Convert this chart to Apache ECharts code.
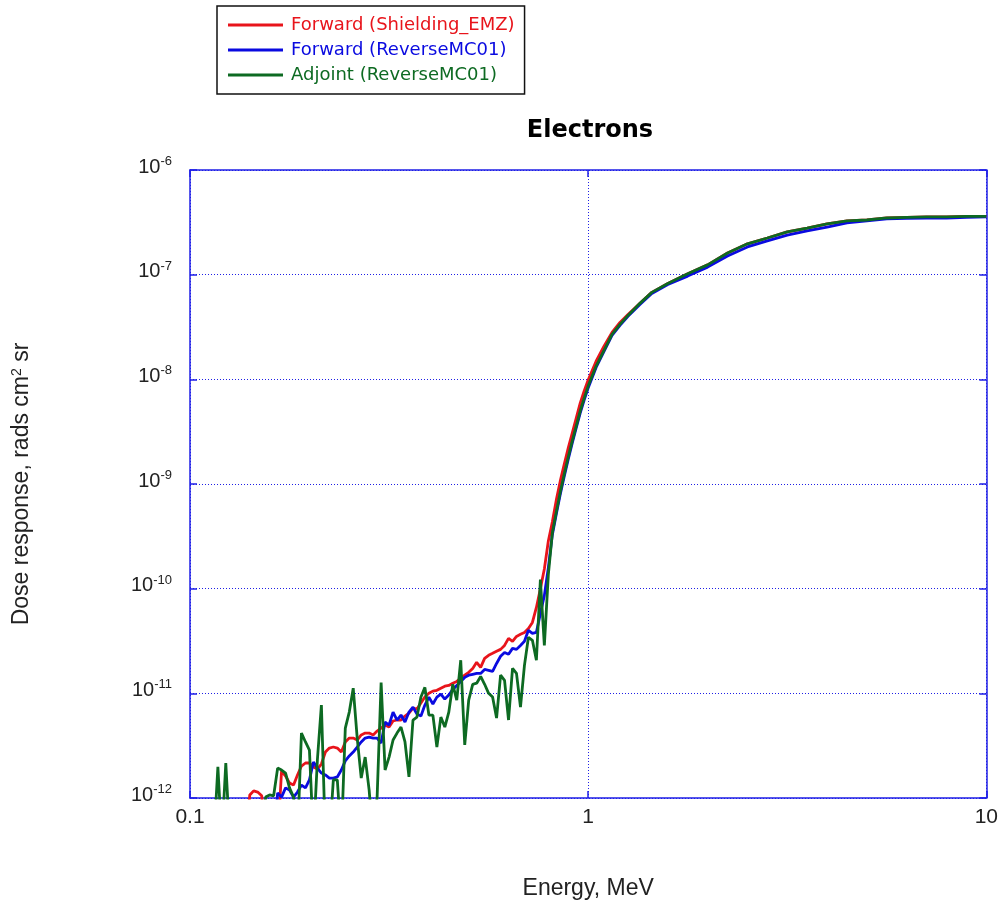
<!DOCTYPE html>
<html>
<head>
<meta charset="utf-8">
<title>Electrons</title>
<script src="https://cdn.jsdelivr.net/npm/echarts@6/dist/echarts.min.js"></script>
<style>
  html, body { margin: 0; padding: 0; background: #ffffff; overflow: hidden; }
  #chart { width: 1001px; height: 907px; }
</style>
</head>
<body>
<div id="chart"></div>
<script>
// Points that fall below the bottom of the dose axis (the trace drops off the plot)
const OFF_SCALE = 4e-13;

// Electron energy, MeV (shared by all three traces)
const energy = [
  0.1148, 0.1175, 0.1202, 0.1230, 0.1259, 0.1288, 0.1318, 0.1349, 0.1380, 0.1413,
  0.1445, 0.1479, 0.1514, 0.1549, 0.1585, 0.1622, 0.1660, 0.1698, 0.1738, 0.1778,
  0.1820, 0.1862, 0.1905, 0.1950, 0.1995, 0.2042, 0.2089, 0.2138, 0.2188, 0.2239,
  0.2291, 0.2344, 0.2399, 0.2455, 0.2512, 0.2570, 0.2630, 0.2692, 0.2754, 0.2818,
  0.2884, 0.2951, 0.3020, 0.3090, 0.3162, 0.3236, 0.3311, 0.3388, 0.3467, 0.3548,
  0.3631, 0.3715, 0.3802, 0.3890, 0.3981, 0.4074, 0.4169, 0.4266, 0.4365, 0.4467,
  0.4571, 0.4677, 0.4786, 0.4898, 0.5012, 0.5129, 0.5248, 0.5370, 0.5495, 0.5623,
  0.5754, 0.5888, 0.6026, 0.6166, 0.6310, 0.6457, 0.6607, 0.6761, 0.6918, 0.7079,
  0.7244, 0.7413, 0.7586, 0.7762, 0.7943, 0.8128, 0.8318, 0.8511, 0.8710, 0.8913,
  0.9120, 0.9333, 0.9550, 0.9772, 1.000, 1.047, 1.096, 1.148, 1.202, 1.259,
  1.349, 1.445, 1.585, 1.778, 1.995, 2.239, 2.512, 2.818, 3.162, 3.548,
  3.981, 4.467, 5.012, 5.623, 6.310, 7.079, 7.943, 8.913, 10.00
];

// Dose response, rads cm2 sr — forward calculation, Shielding_EMZ
const doseForwardEMZ = [
  OFF_SCALE, OFF_SCALE, OFF_SCALE, OFF_SCALE, OFF_SCALE, OFF_SCALE, OFF_SCALE, OFF_SCALE, OFF_SCALE, 1.07e-12,
  1.17e-12, 1.14e-12, 1.05e-12, OFF_SCALE, OFF_SCALE, OFF_SCALE, OFF_SCALE, 1.81e-12, 1.62e-12, 1.39e-12,
  1.33e-12, 1.66e-12, 2.02e-12, 2.16e-12, 2.16e-12, 1.98e-12, 1.89e-12, 2.11e-12, 2.75e-12, 3.00e-12,
  3.07e-12, 3.00e-12, 2.75e-12, 3.43e-12, 3.74e-12, 3.74e-12, 3.58e-12, 4.00e-12, 4.17e-12, 4.17e-12,
  4.00e-12, 4.36e-12, 4.66e-12, 4.98e-12, 4.76e-12, 5.44e-12, 5.56e-12, 5.56e-12, 6.07e-12, 6.48e-12,
  7.23e-12, 7.08e-12, 8.07e-12, 9.21e-12, 1.00e-11, 1.05e-11, 1.07e-11, 1.12e-11, 1.17e-11, 1.19e-11,
  1.25e-11, 1.30e-11, 1.39e-11, 1.49e-11, 1.59e-11, 1.73e-11, 1.98e-11, 1.77e-11, 2.16e-11, 2.31e-11,
  2.41e-11, 2.52e-11, 2.63e-11, 2.87e-11, 3.35e-11, 3.14e-11, 3.50e-11, 3.66e-11, 3.82e-11, 4.17e-11,
  4.76e-11, 6.62e-11, 1.00e-10, 1.54e-10, 2.85e-10, 4.33e-10, 7.05e-10, 1.07e-9, 1.55e-9, 2.21e-9,
  3.07e-9, 4.27e-9, 5.93e-9, 7.73e-9, 9.84e-9, 1.49e-8, 2.07e-8, 2.81e-8, 3.50e-8, 4.17e-8,
  5.32e-8, 6.77e-8, 8.25e-8, 1.02e-7, 1.24e-7, 1.61e-7, 1.97e-7, 2.24e-7, 2.56e-7, 2.79e-7,
  3.05e-7, 3.26e-7, 3.33e-7, 3.48e-7, 3.52e-7, 3.56e-7, 3.56e-7, 3.60e-7, 3.60e-7
];

// Forward calculation, ReverseMC01
const doseForwardRMC = [
  OFF_SCALE, OFF_SCALE, OFF_SCALE, OFF_SCALE, OFF_SCALE, OFF_SCALE, OFF_SCALE, OFF_SCALE, OFF_SCALE, OFF_SCALE,
  OFF_SCALE, OFF_SCALE, OFF_SCALE, OFF_SCALE, OFF_SCALE, OFF_SCALE, 1.12e-12, 1.02e-12, 1.25e-12, 1.19e-12,
  1.02e-12, 1.14e-12, 1.33e-12, 1.25e-12, 1.49e-12, 2.21e-12, 1.93e-12, 1.73e-12, 1.66e-12, 1.55e-12,
  1.55e-12, 1.59e-12, 1.85e-12, 2.26e-12, 2.52e-12, 2.75e-12, 3.07e-12, 3.43e-12, 3.74e-12, 3.82e-12,
  3.74e-12, 3.74e-12, 3.35e-12, 5.32e-12, 4.98e-12, 6.62e-12, 5.56e-12, 6.20e-12, 5.32e-12, 6.62e-12,
  7.39e-12, 6.34e-12, 6.07e-12, 7.73e-12, 9.21e-12, 7.90e-12, 9.21e-12, 9.84e-12, 8.82e-12, 9.63e-12,
  1.09e-11, 1.19e-11, 1.30e-11, 1.42e-11, 1.49e-11, 1.52e-11, 1.55e-11, 1.55e-11, 1.69e-11, 1.66e-11,
  1.62e-11, 1.93e-11, 2.26e-11, 2.46e-11, 2.36e-11, 2.69e-11, 2.63e-11, 2.87e-11, 3.14e-11, 4.00e-11,
  3.74e-11, 3.82e-11, 5.81e-11, 8.62e-11, 1.59e-10, 3.26e-10, 5.17e-10, 8.00e-10, 1.19e-9, 1.73e-9,
  2.46e-9, 3.43e-9, 4.76e-9, 6.34e-9, 8.25e-9, 1.30e-8, 1.85e-8, 2.63e-8, 3.28e-8, 4.00e-8,
  5.20e-8, 6.62e-8, 8.07e-8, 9.69e-8, 1.18e-7, 1.51e-7, 1.84e-7, 2.10e-7, 2.39e-7, 2.62e-7,
  2.85e-7, 3.12e-7, 3.26e-7, 3.41e-7, 3.45e-7, 3.48e-7, 3.48e-7, 3.52e-7, 3.56e-7
];

// Adjoint calculation, ReverseMC01
const doseAdjointRMC = [
  OFF_SCALE, 1.98e-12, OFF_SCALE, 2.16e-12, OFF_SCALE, OFF_SCALE, OFF_SCALE, OFF_SCALE, OFF_SCALE, OFF_SCALE,
  OFF_SCALE, OFF_SCALE, OFF_SCALE, 1.02e-12, 1.07e-12, 1.05e-12, 1.93e-12, 1.85e-12, 1.73e-12, 1.25e-12,
  1.02e-12, OFF_SCALE, 4.17e-12, 3.43e-12, 2.87e-12, OFF_SCALE, 2.31e-12, 7.73e-12, OFF_SCALE, OFF_SCALE,
  1.49e-12, 1.49e-12, OFF_SCALE, 4.66e-12, 6.62e-12, 1.12e-11, 3.74e-12, 1.55e-12, 2.46e-12, 1.19e-12,
  OFF_SCALE, 1.02e-12, 1.27e-11, 1.85e-12, 2.46e-12, 3.58e-12, 4.17e-12, 4.76e-12, 3.43e-12, 1.59e-12,
  5.56e-12, 5.93e-12, 9.21e-12, 1.14e-11, 6.20e-12, 6.20e-12, 3.07e-12, 5.93e-12, 4.76e-12, 6.62e-12,
  1.22e-11, 8.62e-12, 2.07e-11, 3.21e-12, 8.62e-12, 1.22e-11, 1.25e-11, 1.45e-11, 1.22e-11, 1.00e-11,
  9.21e-12, 5.81e-12, 1.49e-11, 1.33e-11, 5.56e-12, 1.73e-11, 1.55e-11, 7.39e-12, 1.85e-11, 3.43e-11,
  3.21e-11, 2.07e-11, 1.22e-10, 2.87e-11, 1.36e-10, 3.40e-10, 5.40e-10, 8.40e-10, 1.25e-9, 1.81e-9,
  2.57e-9, 3.58e-9, 4.98e-9, 6.62e-9, 8.62e-9, 1.34e-8, 1.89e-8, 2.69e-8, 3.35e-8, 4.08e-8,
  5.32e-8, 6.77e-8, 8.25e-8, 1.02e-7, 1.24e-7, 1.61e-7, 1.97e-7, 2.24e-7, 2.56e-7, 2.79e-7,
  3.05e-7, 3.26e-7, 3.33e-7, 3.48e-7, 3.52e-7, 3.56e-7, 3.56e-7, 3.60e-7, 3.60e-7
];

const seriesNames = ['Forward (Shielding_EMZ)', 'Forward (ReverseMC01)', 'Adjoint (ReverseMC01)'];
const seriesColors = ['#e8141b', '#0a0ae0', '#0d6a22'];
const seriesDose = [doseForwardEMZ, doseForwardRMC, doseAdjointRMC];

const energyRange = [0.1, 10];
const doseRange = [1e-12, 1e-6];

const frameBlue = '#1f1fe6';
const labelFont = '"Liberation Sans", Arial, sans-serif';
const wideFont = '"DejaVu Sans", Verdana, sans-serif';

function energyLabel(v) {
  const e = Math.round(Math.log10(v));
  return e < 0 ? '0.' + '0'.repeat(-e - 1) + '1' : String(Math.pow(10, e));
}
function doseLabel(v) {
  const e = Math.round(Math.log10(v));
  return '{b|10}{s|' + e + '}';
}

const chart = echarts.init(document.getElementById('chart'), null, { renderer: 'canvas', width: 1001, height: 907 });

function xAxisCfg(pos, primary) {
  return {
    type: 'log', logBase: 10, position: pos,
    min: energyRange[0], max: energyRange[1],
    axisLine: { show: true, onZero: false, lineStyle: { color: frameBlue, width: 1.5 } },
    axisTick: { show: true, inside: true, length: 7, lineStyle: { color: frameBlue, width: 1.5 } },
    minorTick: { show: false },
    splitLine: { show: primary, lineStyle: { color: frameBlue, width: 1, type: [1, 2] } },
    axisLabel: primary ? {
      show: true, margin: 9, formatter: energyLabel, showMinLabel: true, showMaxLabel: true,
      color: '#222', fontFamily: labelFont, fontSize: 21
    } : { show: false },
    name: primary ? 'Energy, MeV' : '',
    nameLocation: 'middle', nameGap: 79,
    nameTextStyle: { color: '#222', fontFamily: labelFont, fontSize: 23 }
  };
}

function yAxisCfg(pos, primary) {
  return {
    type: 'log', logBase: 10, position: pos,
    min: doseRange[0], max: doseRange[1], splitNumber: 6,
    axisLine: { show: true, onZero: false, lineStyle: { color: frameBlue, width: 1.5 } },
    axisTick: { show: true, inside: true, length: 7, lineStyle: { color: frameBlue, width: 1.5 } },
    minorTick: { show: false },
    splitLine: { show: primary, lineStyle: { color: frameBlue, width: 1, type: [1, 2] } },
    axisLabel: primary ? {
      show: true, margin: 18, formatter: doseLabel, showMinLabel: true, showMaxLabel: true,
      padding: [0, 0, 8, 0],
      rich: {
        b: { fontFamily: labelFont, fontSize: 20, color: '#222', lineHeight: 22, verticalAlign: 'bottom' },
        s: { fontFamily: labelFont, fontSize: 13, color: '#222', lineHeight: 13, verticalAlign: 'top' }
      }
    } : { show: false },
    name: primary ? 'Dose response, rads cm{s|2} sr' : '',
    nameLocation: 'middle', nameGap: 157, nameRotate: 90,
    nameTextStyle: {
      color: '#222', fontFamily: labelFont, fontSize: 23,
      rich: {
        s: { fontFamily: labelFont, fontSize: 14, color: '#222', lineHeight: 14, verticalAlign: 'top' }
      }
    }
  };
}

const option = {
  animation: false,
  backgroundColor: '#ffffff',
  grid: { left: 190, right: 12, top: 170, bottom: 109, containLabel: false },
  graphic: [{
    type: 'text', x: 590, y: 131,
    style: {
      text: 'Electrons', fill: '#000', font: 'bold 24px ' + wideFont,
      textAlign: 'center', textVerticalAlign: 'middle'
    }
  }],
  legend: {
    orient: 'vertical', left: 217, top: 6,
    padding: [10, 10, 10, 11],
    icon: 'rect',
    itemWidth: 55, itemHeight: 3, itemGap: 7,
    borderColor: '#111', borderWidth: 1.5,
    textStyle: { fontFamily: wideFont, fontSize: 18, padding: [0, 0, 0, 3] },
    data: seriesNames.map((n, i) => ({ name: n, textStyle: { color: seriesColors[i] } }))
  },
  xAxis: [xAxisCfg('bottom', true), xAxisCfg('top', false)],
  yAxis: [yAxisCfg('left', true), yAxisCfg('right', false)],
  series: seriesNames.map((n, i) => ({
    name: n, type: 'line', xAxisIndex: 0, yAxisIndex: 0,
    symbol: 'none', showSymbol: false, clip: true,
    color: seriesColors[i],
    lineStyle: { color: seriesColors[i], width: 2.8 },
    data: energy.map((e, j) => [e, seriesDose[i][j]])
  }))
};

chart.setOption(option);
</script>
</body>
</html>
